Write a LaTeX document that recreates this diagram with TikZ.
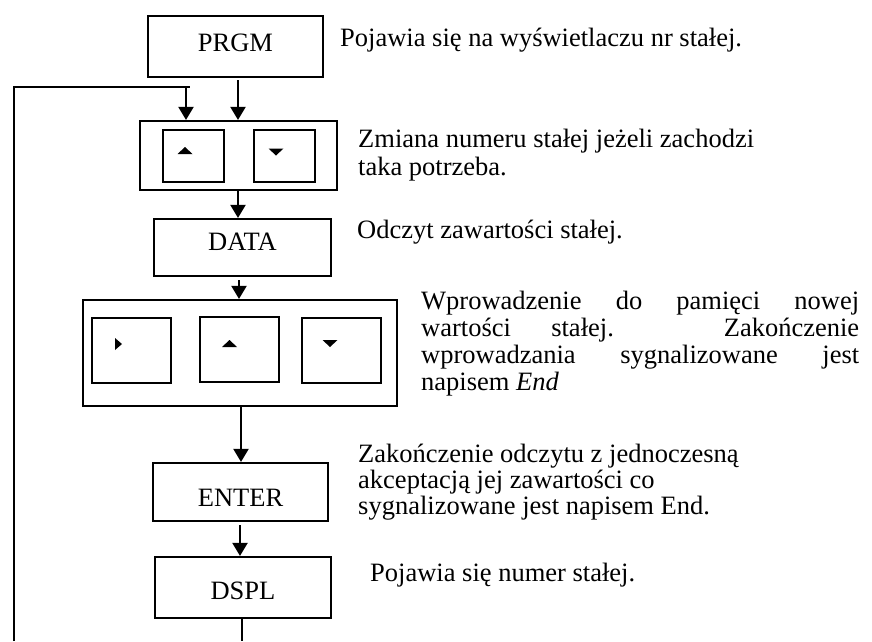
\documentclass[tikz,border=0pt]{standalone}
\usepackage{fontspec}
\setmainfont{Liberation Serif}
\usetikzlibrary{arrows.meta}
\begin{document}
\begin{tikzpicture}[x=1pt,y=-1pt,
  box/.style={draw, line width=2.2pt, inner sep=0pt, font=\fontsize{26.5}{27}\selectfont},
  key/.style={draw, line width=1.9pt, inner sep=0pt},
  txt/.style={anchor=base west, inner sep=0pt, font=\fontsize{26.5}{27}\selectfont},
  conn/.style={line width=2.2pt},
  arr/.style={conn, -{Triangle[width=15pt,length=13pt]}},
  tri/.style={fill=black}]
\useasboundingbox (0,0) rectangle (872,641);

% main boxes
\node[box, minimum width=175pt, minimum height=61pt, text height=18pt, text depth=9pt] (prgm) at (235.5,46.5) {PRGM};
\node[box, minimum width=197pt, minimum height=69pt] (g1) at (238.5,155.5) {};
\node[key, minimum width=61pt, minimum height=52pt] (g1a) at (193.5,156) {};
\node[key, minimum width=61pt, minimum height=52pt] (g1b) at (284.5,156) {};
\node[box, minimum width=177pt, minimum height=57pt, text height=18pt, text depth=13pt] (data) at (242.5,247.5) {DATA};
\node[box, minimum width=314pt, minimum height=106pt] (g2) at (240,353) {};
\node[key, minimum width=79pt, minimum height=65pt] (g2a) at (131.5,350.5) {};
\node[key, minimum width=79pt, minimum height=65pt] (g2b) at (239.5,349.5) {};
\node[key, minimum width=79pt, minimum height=65pt] (g2c) at (341.5,350.5) {};
\node[box, minimum width=175pt, minimum height=58pt, text height=29pt, text depth=0pt] (enter) at (240.5,492) {ENTER};
\node[box, minimum width=176pt, minimum height=61pt, text height=23pt, text depth=0pt] (dspl) at (243,587.5) {DSPL};

% key symbols
\fill[tri] (177.5,154) -- (192.5,154) -- (185,147) -- cycle;
\fill[tri] (268.5,148.5) -- (283.5,148.5) -- (276,155.5) -- cycle;
\fill[tri] (115,338) -- (115,350) -- (122,344) -- cycle;
\fill[tri] (222,347) -- (237,347) -- (229.5,340) -- cycle;
\fill[tri] (322.5,340) -- (337.5,340) -- (330,347) -- cycle;

% connectors
\coordinate (fbbot) at (14,641);
\coordinate (fbtop) at (14,87);
\coordinate (fbend) at (190,87);
\coordinate (fbdrop) at (186,87);
\coordinate (dbot) at (242,641);
\draw[conn] (fbbot) -- (fbtop) -- (fbend);
\draw[arr] (fbdrop) -- (fbdrop |- g1.north);
\draw[arr, shorten <=2pt] (prgm.south -| 238,0) -- (g1.north -| 238,0);
\draw[arr] (g1.south -| 238,0) -- (data.north -| 238,0);
\draw[arr, shorten <=3pt] (data.south -| 239,0) -- (g2.north -| 239,0);
\draw[arr] (g2.south -| 241,0) -- (enter.north -| 241,0);
\draw[arr, shorten <=3pt] (enter.south -| 240,0) -- (dspl.north -| 240,0);
\draw[conn] (dspl.south -| dbot) -- (dbot);

% descriptions
\node[txt] (t1) at (340,46) {Pojawia się na wyświetlaczu nr stałej.};
\node[txt] (t2a) at (358,147) {Zmiana numeru stałej jeżeli zachodzi};
\node[txt] (t2b) at (358,175) {taka potrzeba.};
\node[txt] (t3) at (357,238) {Odczyt zawartości stałej.};
\node[txt] (t4a) at (421,309) {\makebox[438pt][s]{Wprowadzenie do pamięci nowej}};
\node[txt] (t4b) at (421,336) {\makebox[438pt][s]{wartości stałej. Zakończenie}};
\node[txt] (t4c) at (421,363) {\makebox[438pt][s]{wprowadzania sygnalizowane jest}};
\node[txt] (t4d) at (421,390) {napisem \textit{End}};
\node[txt] (t5a) at (358,462) {Zakończenie odczytu z jednoczesną};
\node[txt] (t5b) at (358,488) {akceptacją jej zawartości co};
\node[txt] (t5c) at (358,514) {sygnalizowane jest napisem End.};
\node[txt] (t6) at (370,581) {Pojawia się numer stałej.};
\end{tikzpicture}
\end{document}
